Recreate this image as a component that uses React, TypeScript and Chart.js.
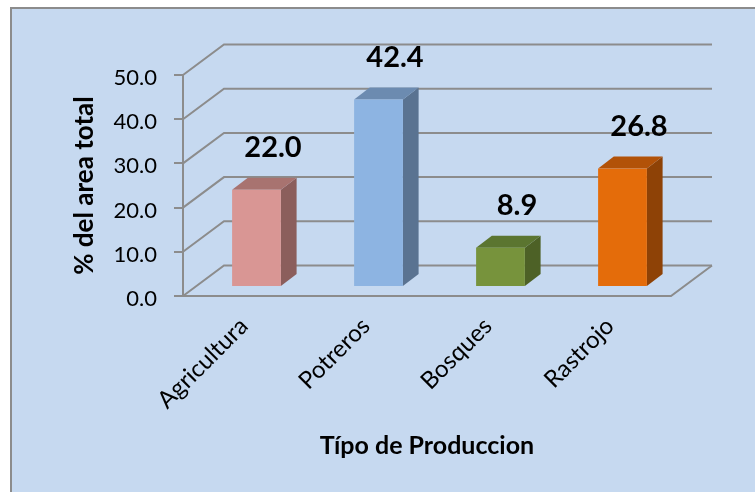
import React, { useEffect, useRef } from "react";
import { Chart, registerables } from "chart.js";

Chart.register(...registerables);

const categories = ["Agricultura", "Potreros", "Bosques", "Rastrojo"];
const values = [22.0, 42.4, 8.9, 26.8];
const valueLabels = ["22.0", "42.4", "8.9", "26.8"];
const yTickLabels = ["0.0", "10.0", "20.0", "30.0", "40.0", "50.0"];
const frontColors = ["#D99694", "#8DB4E2", "#77933C", "#E46C0A"];
const topColors = ["#A87370", "#6C8BB0", "#5B7530", "#B25208"];
const sideColors = ["#8B5E5C", "#5A7391", "#4D6126", "#8E4206"];
const yTitle = "% del area total";
const xTitle = "Típo de Produccion";

const FONT = "Lato, 'Open Sans', sans-serif";
const GRID = "#8C8C8C";
const BG = "#C6D9F0";

const WALL = { dx: 41, dy: -30.5 };
const BAR_FRONT = { dx: 12.5, dy: -9 };
const BAR_DEPTH = { dx: 15.7, dy: -12 };

const threeD = {
  id: "threeD",
  beforeDraw(chart: any) {
    const { ctx, width, height } = chart;
    ctx.save();
    ctx.fillStyle = "#ffffff";
    ctx.fillRect(0, 0, width, height);
    ctx.fillStyle = BG;
    ctx.fillRect(10, 7, width, height);
    ctx.fillStyle = GRID;
    ctx.fillRect(10, 7, 2, height);
    ctx.fillRect(10, 7, width, 2);
    ctx.restore();
  },
  beforeDatasetsDraw(chart: any) {
    const { ctx, chartArea, scales } = chart;
    const y = scales.y;
    const { left, right } = chartArea;
    ctx.save();
    ctx.strokeStyle = GRID;
    ctx.lineWidth = 2;
    y.ticks.forEach((t: any) => {
      const py = y.getPixelForValue(t.value);
      ctx.beginPath();
      ctx.moveTo(left, py);
      ctx.lineTo(left + WALL.dx, py + WALL.dy);
      ctx.lineTo(right + WALL.dx, py + WALL.dy);
      ctx.stroke();
    });
    const p0 = y.getPixelForValue(0);
    ctx.beginPath();
    ctx.moveTo(left, p0);
    ctx.lineTo(right, p0);
    ctx.lineTo(right + WALL.dx, p0 + WALL.dy);
    ctx.stroke();
    ctx.restore();
  },
  afterDatasetsDraw(chart: any) {
    const { ctx } = chart;
    const meta = chart.getDatasetMeta(0);
    ctx.save();
    meta.data.forEach((el: any, i: number) => {
      const w = el.width;
      const l = el.x - w / 2 + BAR_FRONT.dx;
      const r = el.x + w / 2 + BAR_FRONT.dx;
      const t = el.y + BAR_FRONT.dy;
      const b = el.base + BAR_FRONT.dy;
      ctx.fillStyle = sideColors[i];
      ctx.beginPath();
      ctx.moveTo(r, t);
      ctx.lineTo(r + BAR_DEPTH.dx, t + BAR_DEPTH.dy);
      ctx.lineTo(r + BAR_DEPTH.dx, b + BAR_DEPTH.dy);
      ctx.lineTo(r, b);
      ctx.closePath();
      ctx.fill();
      ctx.fillStyle = topColors[i];
      ctx.beginPath();
      ctx.moveTo(l, t);
      ctx.lineTo(r, t);
      ctx.lineTo(r + BAR_DEPTH.dx, t + BAR_DEPTH.dy);
      ctx.lineTo(l + BAR_DEPTH.dx, t + BAR_DEPTH.dy);
      ctx.closePath();
      ctx.fill();
      ctx.fillStyle = frontColors[i];
      ctx.fillRect(l, t, r - l, b - t);
      ctx.fillStyle = "#000";
      ctx.font = `bold 29px ${FONT}`;
      ctx.textAlign = "center";
      ctx.textBaseline = "middle";
      ctx.fillText(valueLabels[i], el.x + 29, el.y - 51);
    });
    ctx.restore();
  },
};

export default function App() {
  const ref = useRef<HTMLCanvasElement>(null);
  useEffect(() => {
    if (!ref.current) return;
    const chart = new Chart(ref.current, {
      type: "bar",
      data: {
        labels: categories,
        datasets: [
          {
            data: values,
            backgroundColor: "rgba(0,0,0,0)",
            borderWidth: 0,
            categoryPercentage: 1,
            barPercentage: 0.4,
          },
        ],
      },
      options: {
        responsive: false,
        animation: false,
        devicePixelRatio: 1,
        layout: { padding: { top: 75, right: 84, left: 0, bottom: 0 } },
        plugins: { legend: { display: false }, tooltip: { enabled: false } },
        scales: {
          x: {
            grid: { display: false, drawTicks: false },
            border: { display: false },
            ticks: {
              font: { family: FONT, size: 24 },
              color: "#000",
              maxRotation: 45,
              minRotation: 45,
              padding: 16,
              autoSkip: false,
            },
            title: {
              display: true,
              text: xTitle,
              color: "#000",
              font: { family: FONT, size: 25, weight: "bold" },
              padding: { top: 0, bottom: 31 },
            },
            afterFit: (s: any) => {
              s.height = 196;
            },
          },
          y: {
            min: 0,
            max: 50,
            ticks: {
              stepSize: 10,
              callback: (_v: any, i: number) => yTickLabels[i],
              font: { family: FONT, size: 22 },
              color: "#000",
              padding: 17,
              labelOffset: 3,
            },
            grid: {
              drawOnChartArea: false,
              drawTicks: true,
              tickLength: 9,
              color: GRID,
              lineWidth: 2,
            },
            border: { display: true, color: GRID, width: 2 },
            title: {
              display: true,
              text: yTitle,
              color: "#000",
              font: { family: FONT, size: 26, weight: "bold" },
              padding: { top: 69, bottom: 0 },
            },
            afterFit: (s: any) => {
              s.width = 183;
            },
          },
        },
      },
      plugins: [threeD],
    } as any);
    return () => chart.destroy();
  }, []);
  return (
    <div style={{ position: "fixed", left: 0, top: 0, width: 755, height: 492, overflow: "hidden" }}>
      <canvas ref={ref} width={755} height={492} style={{ display: "block" }} />
    </div>
  );
}
